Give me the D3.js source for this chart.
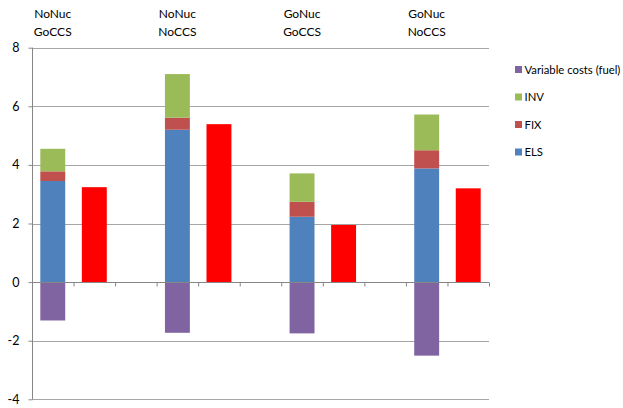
<!DOCTYPE html>
<html><head><meta charset="utf-8">
<script src="https://cdn.jsdelivr.net/npm/d3@7"></script>
<style>
html,body{margin:0;padding:0;background:#fff;}
svg{display:block;font-family:Lato,"Open Sans",sans-serif;}
</style></head>
<body><svg id="chart" width="623" height="408"></svg>
<script>
// Categories: 4 scenarios, each with a stacked bar, a total bar and an empty slot
const slots = ["s0","t0","e0","s1","t1","e1","s2","t2","e2","s3","t3"];
const scenarioTop = ["NoNuc","NoNuc","GoNuc","GoNuc"];
const scenarioBottom = ["GoCCS","NoCCS","GoCCS","NoCCS"];
const seriesNames = ["ELS","FIX","INV","Variable costs (fuel)"];
const els = [3.45, 5.20, 2.23, 3.88];
const fix = [0.33, 0.41, 0.51, 0.62];
const inv = [0.77, 1.49, 0.97, 1.22];
const fuel = [-1.31, -1.73, -1.75, -2.51];
const totals = [3.24, 5.39, 1.95, 3.20];
const yTicks = [-4, -2, 0, 2, 4, 6, 8];
const legendOrder = ["Variable costs (fuel)","INV","FIX","ELS"];
const colors = {"ELS":"#4F81BD","FIX":"#C0504D","INV":"#9BBB59","Variable costs (fuel)":"#8064A2","total":"#FF0000"};

const svg = d3.select("#chart");
const x = d3.scaleBand().domain(slots).range([32, 489]).paddingInner(0.4).paddingOuter(0.2);
const y = d3.scaleLinear().domain([-4, 8]).range([399.3, 47.7]);

// gridlines
svg.append("g").selectAll("line").data(yTicks.filter(t => t !== 0)).join("line")
  .attr("x1", 32).attr("x2", 489)
  .attr("y1", d => Math.round(y(d)) + 0.5).attr("y2", d => Math.round(y(d)) + 0.5)
  .attr("stroke", "#a6a6a6").attr("stroke-width", 1.2);

// stacked bars
const stackData = els.map((v, i) => ({slot: "s" + i, ELS: v, FIX: fix[i], INV: inv[i]}));
const stack = d3.stack().keys(["ELS","FIX","INV"]);
const layers = stack(stackData);
const gBars = svg.append("g");
layers.forEach(layer => {
  gBars.selectAll(null).data(layer).join("rect")
    .attr("x", d => x(d.data.slot)).attr("width", x.bandwidth())
    .attr("y", d => y(d[1])).attr("height", d => y(d[0]) - y(d[1]))
    .attr("fill", colors[layer.key]);
});
gBars.selectAll(null).data(fuel).join("rect")
  .attr("x", (d, i) => x("s" + i)).attr("width", x.bandwidth())
  .attr("y", y(0)).attr("height", d => y(d) - y(0))
  .attr("fill", colors["Variable costs (fuel)"]);
gBars.selectAll(null).data(totals).join("rect")
  .attr("x", (d, i) => x("t" + i)).attr("width", x.bandwidth())
  .attr("y", d => y(d)).attr("height", d => y(0) - y(d))
  .attr("fill", colors.total);

// y axis
const yAxis = d3.axisLeft(y).tickValues(yTicks).tickSize(4).tickPadding(9).tickFormat(d => String(d));
const gy = svg.append("g").attr("transform", "translate(32.5,0)").call(yAxis);
gy.select(".domain").attr("stroke", "#868686").attr("d", `M-0,${y(8)}V${y(-4)}`);
gy.selectAll(".tick line").attr("stroke", "#868686");
gy.selectAll(".tick text").attr("fill", "#000").style("font-size", "12.5px").style("font-family", "Lato, sans-serif");

// x axis at zero
const xAxisScale = d3.scaleLinear().domain([0, slots.length]).range([32, 489]);
const xAxis = d3.axisBottom(xAxisScale).tickValues(d3.range(0, slots.length + 1)).tickSize(4).tickFormat("");
const gx = svg.append("g").attr("transform", `translate(0,${Math.round(y(0)) + 0.5})`).call(xAxis);
gx.select(".domain").attr("stroke", "#868686").attr("d", "M32,0H489");
gx.selectAll(".tick line").attr("stroke", "#868686");

// scenario labels
const gl = svg.append("g");
scenarioTop.forEach((t, i) => {
  const cx = x("s" + i) + x.bandwidth() / 2;
  const txt = gl.append("text").attr("x", cx).attr("text-anchor", "middle")
    .style("font-size", "12px").attr("fill", "#000");
  txt.append("tspan").attr("x", cx).attr("y", 18).text(t);
  txt.append("tspan").attr("x", cx).attr("y", 36).text(scenarioBottom[i]);
});

// legend
const gLeg = svg.append("g");
legendOrder.forEach((name, i) => {
  const cy = 69.5 + i * 27.5;
  gLeg.append("rect").attr("x", 515).attr("y", cy - 3.5).attr("width", 7).attr("height", 7).attr("fill", colors[name]);
  gLeg.append("text").attr("x", 524.5).attr("y", cy + 4).style("font-size", "11.3px").attr("fill", "#000").text(name);
});
</script></body></html>
